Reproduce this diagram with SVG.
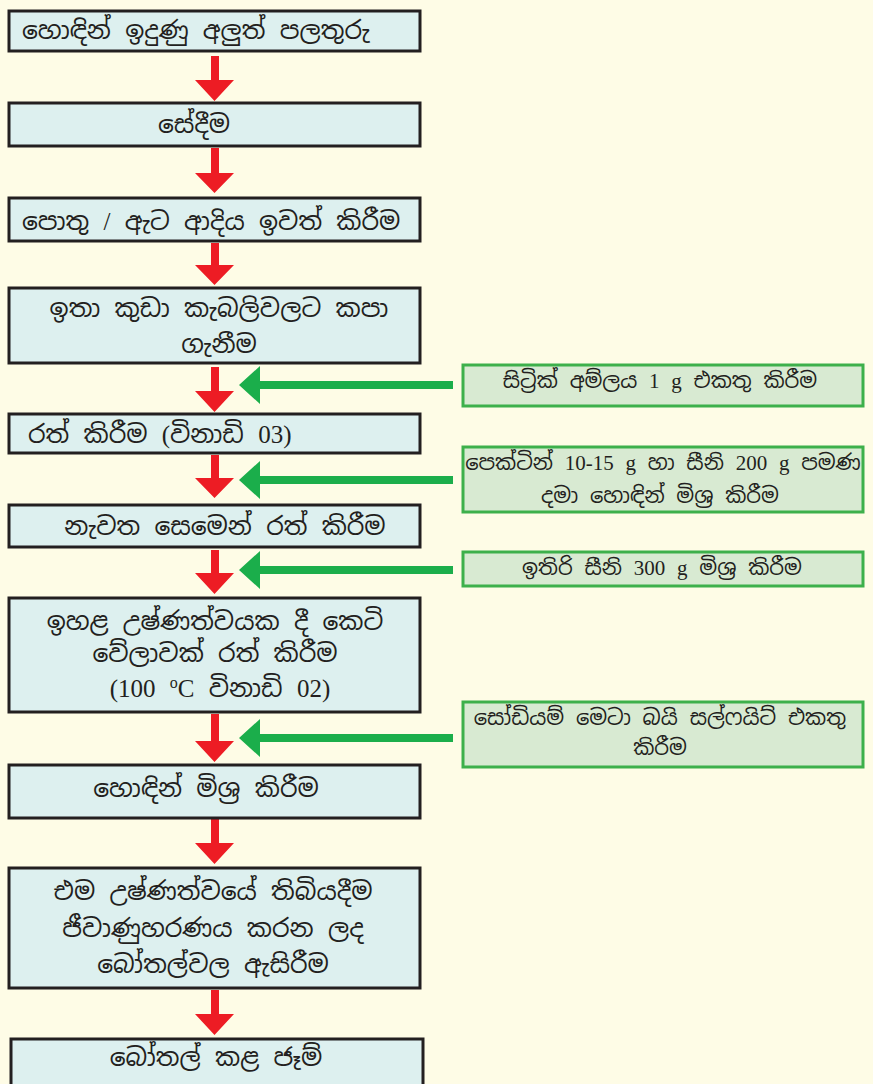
<svg xmlns="http://www.w3.org/2000/svg" width="873" height="1084" viewBox="0 0 873 1084">
<style>
.bg{fill:#FEFCE6}
.box{fill:#DDF0EF;stroke:#231F20;stroke-width:3}
.gbox{fill:#D8EAD2;stroke:#3DB04B;stroke-width:3}
.red{fill:#ED1C24}
.grn{fill:#1BAE4B}
text{font-family:"Liberation Serif","Noto Sans Sinhala","Noto Serif Sinhala",serif;fill:#231F20}
.t{font-size:25px;word-spacing:8px}
.s{font-size:21px;word-spacing:6.5px}
.c{text-anchor:middle}
</style>
<rect class="bg" x="0" y="0" width="873" height="1084"/>
<g id="connectors">
<polygon class="red" points="211,56 219,56 219,80 234,80 214.5,101 195,80 211,80"/>
<polygon class="red" points="211,148 219,148 219,173 234,173 214.5,193 195,173 211,173"/>
<polygon class="red" points="211,243 219,243 219,265 234,265 214.5,285 195,265 211,265"/>
<polygon class="red" points="211,367 219,367 219,391 234,391 214.5,412 195,391 211,391"/>
<polygon class="red" points="211,455 219,455 219,478 234,478 214.5,498 195,478 211,478"/>
<polygon class="red" points="211,550 219,550 219,573 234,573 214.5,594 195,573 211,573"/>
<polygon class="red" points="211,714 219,714 219,741 234,741 214.5,762 195,741 211,741"/>
<polygon class="red" points="211,819 219,819 219,843 234,843 214.5,864 195,843 211,843"/>
<polygon class="red" points="211,990 219,990 219,1014 234,1014 214.5,1035 195,1014 211,1014"/>
<polygon class="grn" points="453,381 453,389 260,389 260,404 239,385 260,366 260,381"/>
<polygon class="grn" points="453,476 453,484 260,484 260,499 239,480 260,461 260,476"/>
<polygon class="grn" points="453,566 453,574 260,574 260,589 239,570 260,551 260,566"/>
<polygon class="grn" points="453,734 453,742 260,742 260,757 239,738 260,719 260,734"/>
</g>
<g id="n1"><rect class="box" x="9" y="11" width="411" height="40"/><text class="t" x="22" y="39">හොඳින් ඉදුණු අලුත් පලතුරු</text></g>
<g id="n2"><rect class="box" x="9" y="103" width="411" height="43"/><text class="t c" x="194" y="133">සේදීම</text></g>
<g id="n3"><rect class="box" x="9" y="198" width="411" height="43"/><text class="t" x="22" y="230">පොතු / ඇට ආදිය ඉවත් කිරීම</text></g>
<g id="n4"><rect class="box" x="9" y="288" width="411" height="75"/><text class="t c" x="219" y="317">ඉතා කුඩා කැබලිවලට කපා</text><text class="t c" x="219" y="353">ගැනීම</text></g>
<g id="n5"><rect class="box" x="9" y="414" width="411" height="39"/><text class="t" x="28" y="443">රත් කිරීම (විනාඩි 03)</text></g>
<g id="n6"><rect class="box" x="9" y="505" width="411" height="42"/><text class="t c" x="225" y="535">නැවත සෙමෙන් රත් කිරීම</text></g>
<g id="n7"><rect class="box" x="9" y="598" width="411" height="114"/><text class="t c" x="215" y="630">ඉහළ උෂ්ණත්වයක දී කෙටි</text><text class="t c" x="215" y="662">වේලාවක් රත් කිරීම</text><text class="t c" x="220" y="697">(100 <tspan dy="-9" font-size="16">o</tspan><tspan dy="9">C</tspan> විනාඩි 02)</text></g>
<g id="n8"><rect class="box" x="9" y="765" width="411" height="53"/><text class="t c" x="206" y="797">හොඳින් මිශ්‍ර කිරීම</text></g>
<g id="n9"><rect class="box" x="9" y="868" width="411" height="120"/><text class="t c" x="213" y="900">එම උෂ්ණත්වයේ තිබියදීම</text><text class="t c" x="213" y="937">ජීවාණුහරණය කරන ලද</text><text class="t c" x="213" y="973">බෝතල්වල ඇසිරීම</text></g>
<g id="n10"><rect class="box" x="11" y="1039" width="412" height="60"/><text class="t c" x="216" y="1066">බෝතල් කළ ජෑම්</text></g>
<g id="a1"><rect class="gbox" x="463" y="365" width="400" height="41"/><text class="s c" x="660" y="388">සිට්‍රික් අම්ලය 1 g එකතු කිරීම</text></g>
<g id="a2"><rect class="gbox" x="463" y="447" width="400" height="65"/><text class="s c" x="663" y="470">පෙක්ටින් 10-15 g හා සීනි 200 g පමණ</text><text class="s c" x="660" y="503">දමා හොඳින් මිශ්‍ර කිරීම</text></g>
<g id="a3"><rect class="gbox" x="463" y="552" width="400" height="34"/><text class="s c" x="662" y="575">ඉතිරි සීනි 300 g මිශ්‍ර කිරීම</text></g>
<g id="a4"><rect class="gbox" x="463" y="702" width="400" height="65"/><text class="s c" x="660" y="725">සෝඩියම් මෙටා බයි සල්ෆයිට් එකතු</text><text class="s c" x="660" y="755">කිරීම</text></g>
</svg>
